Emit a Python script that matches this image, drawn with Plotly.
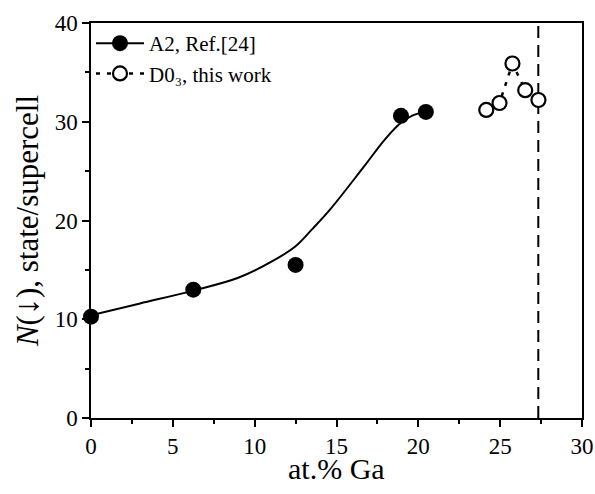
import plotly.graph_objects as go

# A2 data (Ref.[24]) – filled circles
a2_x = [0.0, 6.25, 12.5, 18.94, 20.46]
a2_y = [10.26, 13.0, 15.5, 30.6, 31.0]

# A2 guide curve
a2_curve_x = [0.0, 3.0, 6.25, 9.0, 11.0, 12.5, 13.5, 14.6, 16.65, 18.0, 18.94, 19.6, 20.4]
a2_curve_y = [10.4, 11.6, 12.9, 14.2, 15.8, 17.4, 19.1, 21.1, 25.4, 28.3, 29.9, 30.6, 31.0]

# D0_3 data (this work) – open circles
d03_x = [24.15, 24.96, 25.75, 26.53, 27.34]
d03_y = [31.2, 31.9, 35.9, 33.2, 32.2]

# vertical dashed limit
ga_limit = 27.33
limit_y = [0, 40]

x_ticks = [0, 5, 10, 15, 20, 25, 30]
y_ticks = [0, 10, 20, 30, 40]

serif = "Liberation Serif"

fig = go.Figure()

fig.add_trace(go.Scatter(x=[ga_limit, ga_limit], y=limit_y, mode="lines",
                         line=dict(color="black", width=2, dash="12px,7px"),
                         showlegend=False, hoverinfo="skip"))

fig.add_trace(go.Scatter(x=a2_curve_x, y=a2_curve_y, mode="lines",
                         line=dict(color="black", width=2, shape="spline", smoothing=1.0),
                         showlegend=False))

fig.add_trace(go.Scatter(x=a2_x, y=a2_y, mode="markers",
                         marker=dict(size=16, color="black", line=dict(width=0)),
                         showlegend=False, cliponaxis=False))

# legend proxy for A2
fig.add_trace(go.Scatter(x=[None], y=[None], mode="lines+markers", name="A2, Ref.[24]",
                         line=dict(color="black", width=2),
                         marker=dict(size=16, color="black")))

fig.add_trace(go.Scatter(x=d03_x, y=d03_y, mode="lines+markers",
                         name="D0₃, this work",
                         line=dict(color="black", width=2.5, dash="4px,7px"),
                         marker=dict(size=14, color="white", line=dict(color="black", width=2.2)),
                         cliponaxis=False))

axis_common = dict(
    showline=True, linecolor="black", linewidth=1.5, mirror=True,
    ticks="outside", ticklen=7, tickwidth=1.5, tickcolor="black",
    showgrid=False, zeroline=False, automargin=False,
    tickfont=dict(family=serif, size=23, color="black"),
)

fig.update_xaxes(range=[0, 30], tickvals=x_ticks,
                 minor=dict(ticks="outside", ticklen=4, tickwidth=1.5, tickcolor="black", dtick=2.5),
                 **axis_common)
fig.update_yaxes(range=[0, 40], tickvals=y_ticks,
                 minor=dict(ticks="outside", ticklen=4, tickwidth=1.5, tickcolor="black", dtick=5),
                 title=dict(text="<i>N</i>(<span style=\"font-size:34px\">↓</span>), state/supercell",
                            font=dict(family=serif, size=31, color="black"), standoff=7),
                 **axis_common)

fig.add_annotation(text="at.% Ga", xref="paper", yref="paper", x=0.5, y=-0.128,
                   xanchor="center", yanchor="middle", showarrow=False,
                   font=dict(family=serif, size=30, color="black"))

fig.update_layout(
    width=595, height=494,
    margin=dict(l=91, r=13, t=23, b=76),
    paper_bgcolor="white", plot_bgcolor="white",
    legend=dict(x=0.0, y=1.0, xanchor="left", yanchor="top",
                bgcolor="rgba(0,0,0,0)", font=dict(family=serif, size=21, color="black"),
                itemwidth=48, tracegroupgap=0),
)

# remove the default page margin so the 595x494 figure fills the window exactly
fig.write_html("out.html", config={"displayModeBar": False},
               post_script="document.body.style.margin='0px';document.body.style.overflow='hidden';")
